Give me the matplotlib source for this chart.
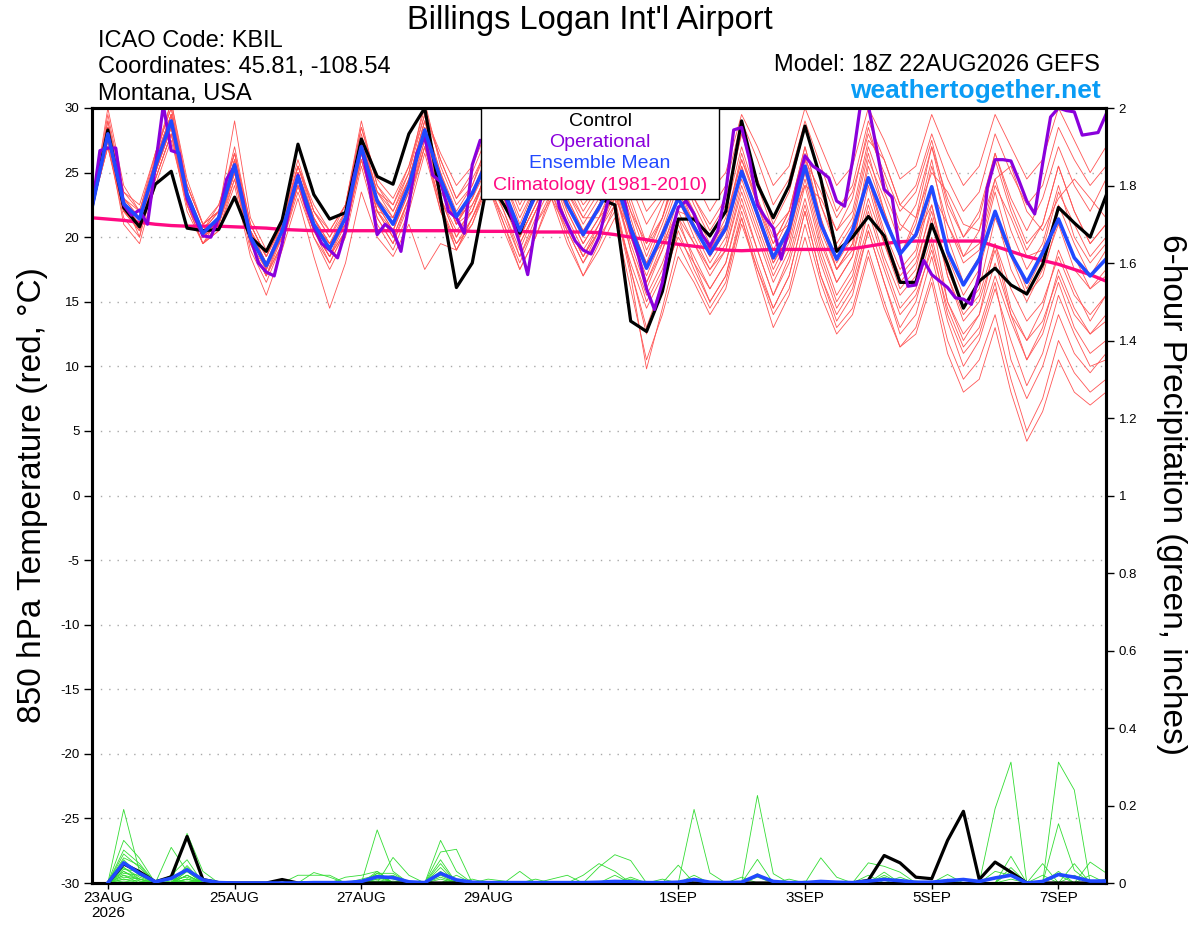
import numpy as np
import pandas as pd
import matplotlib
matplotlib.use('Agg')
import matplotlib.pyplot as plt
from matplotlib.patches import Rectangle

plt.rcParams['font.family'] = ['Liberation Sans', 'DejaVu Sans']
plt.rcParams['axes.unicode_minus'] = False

# ---- data (6-hourly from 18Z 22AUG2026, operational is 3-hourly) ----
times = pd.date_range('2026-08-22 18:00', periods=65, freq='6h')
times_op = pd.date_range('2026-08-22 18:00', periods=129, freq='3h')
times_pr = times[1:]

control = [22.3, 28.3, 22.3, 20.8, 24.1, 25.1, 20.7, 20.5, 20.6, 23.1,
           20.0, 18.9, 21.3, 27.2, 23.3, 21.4, 21.9, 27.6, 24.7, 24.1,
           28.0, 30.0, 23.0, 16.1, 18.0, 24.5, 22.5, 20.3, 23.5, 26.0,
           24.5, 23.8, 23.0, 22.5, 13.5, 12.7, 15.8, 21.4, 21.4, 20.1,
           22.0, 29.0, 24.1, 21.5, 24.0, 28.6, 24.5, 18.9, 20.0, 21.6,
           20.1, 16.5, 16.5, 21.0, 17.9, 14.5, 16.6, 17.6, 16.3, 15.6,
           17.9, 22.3, 21.1, 20.0, 23.2]

ens_mean = [22.3, 28.0, 22.6, 21.4, 25.5, 29.0, 23.3, 20.3, 21.5, 25.6,
            20.0, 17.8, 20.5, 24.7, 21.0, 19.1, 21.5, 27.0, 22.8, 21.0,
            24.0, 28.3, 24.5, 21.6, 23.4, 26.0, 23.6, 20.5, 23.3, 25.5,
            22.5, 20.2, 22.3, 24.5, 20.7, 17.6, 20.2, 23.0, 20.8, 18.7,
            20.7, 25.1, 21.8, 18.4, 20.7, 25.5, 21.0, 18.3, 20.5, 24.6,
            21.5, 18.7, 20.2, 23.9, 18.9, 16.3, 18.3, 22.0, 18.7, 16.5,
            18.8, 21.4, 18.4, 17.0, 18.3]

climatology = [21.5, 21.4, 21.3, 21.15, 21.0, 20.9, 20.85, 20.85, 20.85, 20.8,
               20.75, 20.7, 20.6, 20.55, 20.5, 20.5, 20.5, 20.5, 20.5, 20.5,
               20.5, 20.5, 20.5, 20.5, 20.45, 20.45, 20.45, 20.45, 20.4, 20.4,
               20.4, 20.4, 20.35, 20.2, 20.0, 19.8, 19.6, 19.45, 19.3, 19.15,
               19.0, 18.95, 19.0, 19.05, 19.05, 19.05, 19.05, 19.05, 19.1, 19.3,
               19.5, 19.65, 19.7, 19.7, 19.7, 19.7, 19.7, 19.3, 18.9, 18.5,
               18.2, 17.9, 17.5, 17.1, 16.6]

operational = [22.3, 26.7, 26.9, 26.9, 22.5, 21.7, 22.1, 21.0,
               25.5, 30.2, 26.7, 26.5, 23.0, 21.5, 20.1, 20.0,
               21.5, 24.5, 25.5, 23.0, 20.0, 18.0, 17.3, 17.0,
               19.5, 22.5, 24.8, 22.5, 20.8, 19.5, 19.0, 18.4,
               20.5, 24.5, 27.0, 24.0, 20.2, 21.0, 20.5, 18.9,
               22.5, 26.5, 27.8, 24.8, 24.3, 22.0, 21.5, 20.3,
               25.6, 27.5, 27.0, 25.0, 23.5, 21.5, 19.5, 17.1,
               21.0, 24.0, 25.5, 22.3, 21.0, 19.7, 19.0, 18.7,
               20.0, 22.5, 24.5, 23.5, 20.5, 18.5, 16.0, 14.4,
               16.5, 20.0, 22.3, 22.8, 21.8, 20.2, 19.3, 20.5,
               23.5, 28.3, 28.5, 26.0, 22.5, 21.5, 20.7, 18.3,
               20.7, 24.0, 26.3, 25.5, 25.1, 24.6, 22.8, 22.4,
               25.9, 30.2, 30.2, 27.0, 23.7, 23.1, 18.7, 16.2,
               16.3, 18.2, 17.1, 16.6, 16.1, 15.3, 15.2, 14.8,
               17.1, 23.8, 26.0, 26.0, 25.9, 24.4, 22.8, 21.8,
               25.7, 29.3, 30.0, 29.8, 29.7, 27.9, 28.0, 28.1,
               29.5]

ens_temp = [
    [22.3, 29.5, 23.5, 22.0, 26.5, 30.5, 24.0, 21.0, 22.0, 27.0, 21.0, 18.5, 21.0, 25.5, 22.0, 20.0,
     22.5, 28.5, 24.0, 22.5, 25.5, 30.0, 26.0, 23.0, 25.0, 28.0, 25.5, 22.5, 25.0, 27.5, 24.5, 22.0,
     24.0, 26.5, 23.0, 19.5, 22.5, 25.5, 23.0, 21.0, 23.0, 28.0, 24.5, 21.0, 23.5, 28.5, 24.5, 21.5,
     23.5, 28.0, 25.0, 22.0, 23.5, 27.5, 22.5, 20.0, 22.0, 26.5, 23.0, 20.5, 23.0, 27.0, 24.0, 22.0, 24.5],
    [22.3, 27.0, 21.5, 20.0, 24.5, 28.0, 22.0, 19.5, 20.5, 24.5, 19.0, 16.5, 19.5, 23.5, 20.0, 17.5,
     20.0, 25.5, 21.0, 19.0, 22.0, 26.5, 22.0, 19.5, 21.5, 24.0, 21.5, 18.5, 21.0, 23.0, 20.5, 18.0,
     20.0, 22.0, 18.0, 14.5, 17.0, 20.0, 18.0, 16.0, 18.0, 22.5, 19.0, 15.5, 18.0, 22.5, 18.0, 14.5,
     16.5, 21.0, 17.5, 14.0, 15.5, 19.0, 14.5, 11.5, 13.0, 17.0, 13.5, 10.5, 12.5, 16.5, 13.0, 11.0, 12.0],
    [22.3, 28.5, 22.0, 20.5, 26.0, 29.5, 23.0, 20.5, 22.5, 26.5, 20.5, 18.0, 20.0, 25.0, 21.5, 19.5,
     21.0, 27.5, 23.5, 22.0, 24.5, 29.0, 25.0, 21.5, 22.5, 25.0, 22.5, 20.0, 22.5, 24.5, 23.5, 21.5,
     21.5, 23.0, 20.5, 18.0, 19.5, 22.0, 21.5, 19.0, 21.5, 26.0, 23.0, 20.0, 21.0, 24.0, 23.0, 20.5,
     22.0, 27.5, 26.0, 22.5, 21.5, 25.0, 23.5, 21.0, 20.5, 24.5, 25.5, 22.0, 20.5, 23.0, 24.5, 23.0, 21.5],
    [22.3, 27.5, 23.0, 21.5, 25.0, 28.5, 23.5, 20.0, 21.0, 25.0, 19.5, 17.0, 20.5, 24.0, 20.5, 18.5,
     21.5, 26.5, 22.0, 20.0, 23.0, 27.5, 23.0, 20.5, 22.0, 25.5, 23.0, 19.5, 22.0, 25.0, 21.5, 19.0,
     21.0, 24.0, 19.0, 15.5, 18.0, 21.5, 19.5, 17.5, 19.0, 24.0, 20.5, 17.0, 19.5, 24.5, 19.5, 16.5,
     18.5, 23.0, 19.5, 16.5, 18.0, 22.0, 17.0, 14.0, 15.5, 19.5, 16.0, 13.5, 15.0, 18.5, 15.5, 14.0, 15.5],
    [22.3, 28.0, 22.5, 21.0, 25.5, 29.5, 24.0, 21.0, 22.0, 26.0, 20.5, 18.5, 21.5, 25.5, 22.5, 20.5,
     22.5, 28.5, 24.5, 23.0, 25.5, 29.5, 26.5, 24.0, 25.5, 28.5, 26.0, 23.5, 25.0, 28.0, 25.5, 23.0,
     24.5, 28.0, 25.0, 22.0, 23.5, 27.0, 25.5, 23.5, 25.0, 29.5, 27.0, 24.0, 25.5, 30.0, 27.0, 24.0,
     25.5, 30.0, 27.5, 24.5, 25.5, 29.5, 26.5, 24.0, 25.5, 29.5, 27.0, 24.5, 26.0, 30.0, 27.5, 25.0, 27.0],
    [22.3, 28.5, 22.0, 21.5, 25.0, 28.5, 22.5, 19.5, 21.0, 25.0, 19.5, 17.0, 19.5, 24.0, 20.0, 18.0,
     20.5, 26.0, 21.5, 19.5, 23.0, 27.0, 22.5, 19.5, 21.0, 24.5, 21.0, 17.5, 20.0, 23.5, 20.0, 17.0,
     19.0, 21.5, 16.0, 10.5, 14.0, 18.5, 16.5, 14.0, 16.0, 21.0, 17.5, 14.0, 16.0, 21.0, 16.5, 13.0,
     14.5, 19.0, 15.0, 11.5, 13.0, 17.0, 12.0, 9.0, 10.5, 14.0, 9.0, 5.0, 7.5, 12.0, 9.5, 8.0, 9.0],
    [22.3, 29.0, 23.0, 20.0, 26.5, 30.0, 23.5, 20.5, 21.5, 26.0, 20.0, 18.0, 20.0, 25.0, 21.0, 19.0,
     21.5, 27.0, 22.5, 20.5, 24.0, 28.5, 24.5, 21.0, 23.0, 26.5, 24.0, 20.5, 23.5, 26.0, 22.5, 20.0,
     22.5, 25.5, 21.5, 17.5, 20.5, 24.0, 21.0, 18.5, 20.5, 25.5, 22.0, 18.5, 21.0, 26.5, 21.5, 17.5,
     19.5, 26.0, 23.0, 19.5, 20.0, 25.5, 21.0, 18.0, 19.0, 24.0, 21.5, 18.5, 19.0, 23.5, 21.0, 18.5, 20.0],
    [22.3, 27.0, 22.0, 20.5, 24.5, 28.0, 23.0, 20.0, 21.0, 25.0, 20.0, 17.5, 20.0, 24.5, 20.5, 18.0,
     20.5, 26.5, 22.5, 20.5, 23.5, 28.0, 23.0, 20.0, 22.0, 25.0, 22.0, 19.0, 22.0, 24.5, 21.0, 18.5,
     21.0, 23.5, 19.5, 16.0, 19.0, 22.0, 19.5, 17.0, 19.0, 23.5, 20.0, 16.5, 19.0, 24.0, 19.0, 15.5,
     17.5, 22.5, 18.5, 15.5, 17.0, 21.5, 15.0, 12.0, 14.0, 19.5, 14.5, 12.0, 14.5, 19.0, 16.0, 13.5, 15.5],
    [22.3, 28.5, 23.0, 22.0, 26.0, 29.5, 23.5, 20.5, 22.0, 26.5, 21.0, 18.5, 21.0, 25.5, 21.5, 19.5,
     22.0, 28.0, 23.5, 21.5, 24.5, 29.0, 25.0, 22.0, 24.0, 27.0, 24.5, 21.0, 24.0, 27.0, 24.0, 21.5,
     23.5, 26.0, 22.5, 19.0, 21.5, 25.5, 22.5, 20.0, 22.0, 27.0, 23.0, 19.5, 22.0, 27.0, 22.5, 19.0,
     21.0, 26.5, 22.0, 18.5, 21.0, 26.0, 20.0, 16.5, 18.5, 23.5, 19.0, 16.0, 18.5, 22.5, 19.5, 17.0, 19.0],
    [22.3, 28.0, 22.5, 21.0, 25.5, 29.0, 23.0, 20.0, 21.5, 25.5, 19.5, 17.5, 20.5, 25.0, 21.0, 19.5,
     21.0, 27.0, 22.0, 21.5, 24.5, 28.0, 23.5, 21.5, 23.0, 25.5, 23.0, 20.0, 22.5, 25.5, 22.0, 19.5,
     21.5, 24.5, 20.0, 17.0, 20.0, 23.0, 20.5, 18.0, 20.0, 25.0, 21.5, 18.0, 20.0, 25.5, 20.5, 17.5,
     19.5, 24.5, 20.5, 17.5, 19.0, 24.0, 18.5, 15.5, 17.5, 22.0, 17.5, 15.0, 17.5, 21.0, 17.5, 16.0, 17.5],
    [22.3, 27.5, 21.0, 19.5, 24.0, 27.5, 22.5, 19.5, 20.5, 24.0, 18.5, 15.5, 19.0, 23.0, 18.5, 14.5,
     18.0, 23.5, 20.0, 18.5, 21.0, 17.5, 19.5, 19.0, 21.5, 24.0, 20.5, 17.5, 20.0, 23.0, 19.5, 17.0,
     19.5, 22.5, 17.5, 12.5, 16.0, 20.5, 17.5, 15.0, 17.0, 22.0, 18.0, 14.5, 17.0, 22.0, 17.0, 13.5,
     15.5, 20.5, 16.5, 12.5, 14.0, 18.5, 13.5, 10.0, 12.0, 16.0, 12.0, 8.5, 11.0, 15.5, 12.5, 10.0, 10.5],
    [22.3, 28.5, 22.5, 21.5, 25.0, 29.0, 23.5, 20.5, 21.5, 25.5, 20.5, 18.0, 21.0, 24.5, 21.5, 19.0,
     22.0, 27.5, 23.0, 21.0, 24.0, 28.5, 24.0, 21.0, 23.5, 26.0, 23.5, 20.5, 23.0, 26.0, 23.0, 20.5,
     22.0, 25.0, 21.0, 18.0, 21.0, 24.5, 22.0, 19.5, 21.0, 26.5, 22.5, 19.0, 21.5, 26.0, 23.5, 20.5,
     23.0, 28.5, 24.5, 21.0, 20.0, 22.5, 17.0, 13.5, 15.0, 19.0, 14.0, 10.5, 13.0, 17.5, 14.5, 12.5, 13.5],
    [22.3, 30.0, 24.0, 22.0, 26.0, 30.5, 24.5, 21.0, 22.0, 29.0, 21.5, 19.0, 21.5, 26.0, 22.0, 20.5,
     22.5, 29.0, 24.0, 22.0, 25.0, 30.5, 25.5, 22.5, 24.0, 27.5, 24.5, 21.5, 24.0, 26.5, 23.5, 21.0,
     23.0, 26.0, 22.0, 18.5, 21.5, 26.0, 23.0, 20.5, 22.5, 28.0, 24.0, 20.5, 22.0, 26.0, 21.5, 18.0,
     20.0, 24.5, 20.0, 17.0, 18.5, 23.5, 21.0, 18.5, 20.5, 26.0, 22.0, 19.0, 21.0, 25.5, 22.0, 19.5, 21.0],
    [22.3, 27.5, 22.0, 20.5, 25.0, 28.5, 22.5, 19.5, 21.5, 25.0, 19.5, 17.0, 20.0, 24.0, 20.5, 18.5,
     20.5, 26.0, 22.0, 20.0, 23.0, 27.0, 22.5, 19.0, 21.5, 24.5, 22.0, 18.5, 21.5, 24.0, 21.0, 18.5,
     20.5, 23.0, 17.5, 13.0, 16.5, 21.0, 18.5, 16.0, 18.0, 23.0, 19.0, 15.5, 18.5, 23.0, 18.5, 15.0,
     17.0, 22.0, 18.0, 14.5, 16.0, 20.0, 15.0, 12.5, 14.0, 18.0, 14.0, 12.0, 13.5, 17.0, 14.0, 12.5, 14.0],
    [22.3, 28.0, 23.0, 21.5, 25.5, 29.5, 23.0, 20.0, 21.0, 26.0, 20.5, 18.0, 20.0, 24.5, 21.0, 19.5,
     21.5, 27.5, 23.5, 22.5, 25.0, 29.5, 26.0, 23.0, 24.5, 27.0, 25.0, 22.0, 24.5, 27.5, 25.0, 22.5,
     24.0, 27.0, 24.0, 21.0, 23.0, 27.5, 24.5, 22.0, 24.0, 29.0, 26.0, 22.5, 24.5, 29.0, 25.5, 22.0,
     24.0, 29.0, 26.0, 22.5, 24.0, 28.0, 24.5, 22.0, 23.5, 28.0, 25.0, 22.5, 24.0, 28.5, 26.0, 24.0, 25.5],
    [22.3, 28.5, 22.5, 21.0, 26.0, 29.5, 23.5, 20.5, 21.0, 25.5, 20.5, 17.5, 20.5, 25.0, 21.5, 19.0,
     21.5, 27.0, 23.0, 21.0, 24.0, 28.5, 24.0, 21.0, 23.0, 26.0, 23.5, 20.5, 23.0, 25.5, 22.5, 20.0,
     22.5, 24.5, 20.5, 16.5, 19.5, 23.5, 21.0, 18.5, 20.5, 25.5, 21.5, 18.0, 20.5, 25.5, 21.0, 17.5,
     19.0, 25.5, 22.0, 18.5, 21.5, 27.0, 22.0, 18.5, 19.5, 24.5, 20.5, 17.5, 19.5, 24.0, 20.0, 18.0, 19.5],
    [22.3, 28.0, 22.5, 21.5, 25.5, 28.5, 23.0, 20.0, 21.5, 25.5, 20.0, 17.5, 20.5, 24.5, 20.5, 18.5,
     21.0, 26.5, 22.0, 20.5, 23.5, 27.5, 23.0, 20.0, 22.5, 25.0, 22.5, 19.5, 22.0, 24.5, 21.0, 18.5,
     20.5, 23.5, 19.0, 15.0, 17.5, 21.5, 18.0, 15.0, 17.0, 21.5, 17.0, 13.0, 15.5, 20.0, 15.5, 12.5,
     14.0, 18.5, 14.5, 11.5, 12.5, 16.5, 11.0, 8.0, 9.0, 13.0, 8.0, 4.2, 6.5, 10.5, 8.0, 7.0, 8.0],
    [22.3, 29.0, 23.5, 22.5, 26.5, 30.0, 24.0, 21.0, 22.5, 26.5, 21.0, 18.5, 21.0, 25.5, 22.0, 20.0,
     22.0, 27.5, 23.0, 21.5, 24.5, 29.0, 24.5, 21.5, 23.5, 26.5, 23.5, 20.5, 23.5, 26.5, 23.0, 20.5,
     22.5, 25.5, 22.0, 19.5, 21.5, 25.0, 21.5, 19.0, 21.0, 26.0, 22.5, 19.5, 22.0, 27.0, 22.5, 19.5,
     21.5, 27.0, 23.5, 20.5, 22.5, 27.0, 23.0, 20.0, 21.5, 26.5, 22.5, 19.5, 21.0, 25.5, 22.0, 19.5, 21.0],
    [22.3, 27.0, 22.0, 21.0, 24.5, 28.0, 22.5, 20.0, 21.0, 24.5, 19.5, 17.0, 19.5, 24.0, 20.5, 18.5,
     20.5, 26.0, 21.5, 19.5, 22.5, 27.0, 22.0, 19.0, 21.0, 24.0, 21.0, 18.0, 21.0, 23.5, 20.5, 18.0,
     20.5, 22.5, 17.0, 9.8, 14.5, 19.5, 17.0, 14.5, 16.5, 21.5, 17.5, 14.5, 17.0, 22.0, 17.0, 14.0,
     16.0, 20.5, 16.5, 13.0, 15.0, 19.5, 14.0, 11.0, 12.5, 16.5, 10.5, 7.5, 10.0, 14.0, 11.0, 9.5, 11.0],
    [22.3, 28.5, 22.0, 21.0, 25.0, 29.0, 23.0, 20.5, 22.0, 25.5, 20.0, 17.5, 20.5, 24.5, 21.0, 19.0,
     21.0, 26.5, 22.5, 21.0, 24.0, 28.0, 24.0, 21.0, 22.0, 25.5, 23.0, 20.0, 22.5, 25.0, 22.0, 19.5,
     21.5, 24.0, 20.0, 16.5, 19.0, 23.0, 20.0, 17.5, 19.5, 24.5, 21.0, 17.5, 20.0, 25.0, 20.0, 16.5,
     18.5, 24.0, 19.5, 16.0, 17.5, 22.5, 17.5, 14.5, 16.0, 21.5, 18.5, 15.5, 17.0, 21.5, 18.5, 16.0, 17.0],
]

# 6-hour precipitation (inches), valid t=1..64 (00Z 23AUG onward)
precip_ctrl = [0, .049, .029, .003, .016, .12, .009, .001,
               0, 0, 0, .009, 0, 0, 0, 0,
               0, 0, 0, 0, 0, 0, 0, 0,
               0, 0, 0, 0, 0, 0, 0, 0,
               0, 0, 0, 0, 0, 0, 0, 0,
               0, 0, 0, 0, 0, 0, 0, 0,
               .007, .071, .052, .015, .011, .11, .185, .009,
               .054, .028, 0, 0, 0, 0, 0, 0]

precip_mean = [0, .052, .025, .003, .012, .034, .008, .001,
               0, 0, 0, 0, 0, .001, .001, .001,
               .004, .016, .014, .003, .001, .025, .008, .002,
               .001, .001, .001, .001, .001, .001, .001, .002,
               .004, .003, .001, .001, .002, .009, .002, .001,
               .002, .02, .004, .001, .001, .004, .002, .001,
               .005, .009, .006, .002, .002, .006, .009, .004,
               .013, .02, 0, .004, .022, .015, .005, .005]

# members: {step: inches}, all other steps are zero
ens_precip = [
    {2: .19, 3: .03, 6: .02, 22: .11, 23: .03, 38: .19, 39: .026, 58: .069},
    {2: .11, 3: .064, 6: .128, 7: .03, 18: .03, 42: .226, 43: .024, 61: .153, 62: .033},
    {2: .085, 3: .05, 5: .02, 6: .06, 18: .137, 19: .03, 57: .192, 58: .312},
    {2: .075, 3: .04, 5: .092, 6: .03, 19: .066, 20: .02, 61: .312, 62: .24},
    {2: .065, 3: .045, 6: .045, 14: .027, 15: .015, 22: .08, 23: .087, 46: .065, 47: .015, 63: .054, 64: .026},
    {2: .06, 3: .02, 6: .04, 18: .025, 19: .025, 32: .041, 33: .073, 34: .058},
    {2: .05, 3: .03, 6: .03, 22: .06, 27: .03, 49: .052, 50: .043, 51: .028},
    {2: .05, 3: .02, 6: .03, 18: .02, 22: .05, 37: .046, 42: .061, 60: .05},
    {2: .04, 3: .01, 6: .02, 16: .015, 17: .02, 18: .03, 22: .04, 31: .02, 32: .05, 33: .03, 50: .028},
    {2: .04, 3: .015, 6: .02, 18: .025, 22: .03, 34: .015, 42: .024, 54: .022, 58: .03},
    {2: .035, 3: .03, 5: .01, 6: .015, 13: .02, 14: .02, 15: .02, 18: .02, 19: .01, 41: .015, 62: .02},
    {2: .03, 3: .01, 6: .01, 18: .015, 23: .02, 36: .01, 50: .02, 55: .01},
    {2: .03, 3: .005, 7: .01, 17: .01, 18: .02, 22: .02, 29: .01, 30: .02, 57: .03, 58: .02},
    {2: .025, 3: .02, 6: .01, 18: .01, 19: .02, 25: .01, 26: .005, 51: .015, 61: .03},
    {2: .02, 3: .01, 7: .01, 22: .015, 24: .01, 44: .01, 49: .02, 63: .02},
    {2: .02, 6: .005, 18: .01, 22: .01, 28: .01, 58: .04, 62: .05},
    {2: .015, 3: .01, 18: .005, 33: .02, 50: .015, 54: .01},
    {2: .01, 3: .005, 5: .01, 19: .005, 38: .02, 42: .015, 60: .02},
    {2: .01, 6: .01, 23: .01, 45: .005, 61: .02, 64: .01},
    {2: .005, 5: .005, 18: .005, 34: .01, 52: .005, 58: .01},
]

tick_dates = ['2026-08-23', '2026-08-25', '2026-08-27', '2026-08-29',
              '2026-09-01', '2026-09-03', '2026-09-05', '2026-09-07']
tick_labels = ['23AUG\n2026', '25AUG', '27AUG', '29AUG', '1SEP', '3SEP', '5SEP', '7SEP']

RED = '#ff5555'
GREEN = '#33dd33'
PURPLE = '#8a00dc'
BLUE = '#2149ff'
PINK = '#ff0a82'

fig = plt.figure(figsize=(12, 9.27), dpi=100)
ax = fig.add_axes([92/1200, 1-883/927, (1106-92)/1200, (883-108)/927])

for v in range(-25, 30, 5):
    ax.axhline(v, color='#a8a8a8', lw=1.0, ls=(0, (1, 5)), zorder=1)

for m in ens_temp:
    ax.plot(times, m, color=RED, lw=0.6, zorder=2)
ax.plot(times, climatology, color=PINK, lw=2.4, zorder=3)
ax.plot(times, control, color='black', lw=2.3, zorder=4)
ax.plot(times_op, operational, color=PURPLE, lw=2.3, zorder=5)
ax.plot(times, ens_mean, color=BLUE, lw=2.6, zorder=6)

ax.set_xlim(times[0], times[-1])
ax.set_ylim(-30, 30)
ax.set_yticks(range(-30, 31, 5))
ax.set_xticks(pd.to_datetime(tick_dates))
ax.set_xticklabels(tick_labels, fontsize=11, linespacing=1.05)
ax.tick_params(axis='y', labelsize=9.5, length=6, width=1, pad=3)
ax.tick_params(axis='x', length=4, width=1, pad=2)

ax2 = ax.twinx()
for d in ens_precip:
    arr = np.zeros(len(times_pr))
    for step, val in d.items():
        arr[step - 1] = val
    ax2.plot(times_pr, arr, color=GREEN, lw=0.6, zorder=2)
ax2.plot(times_pr, precip_ctrl, color='black', lw=2.3, zorder=4)
ax2.plot(times_pr, precip_mean, color=BLUE, lw=2.6, zorder=5)
ax2.set_ylim(0, 2)
ax2.set_yticks(np.arange(0, 2.01, 0.2))
ax2.set_yticklabels(['%g' % round(v, 1) for v in np.arange(0, 2.01, 0.2)])
ax2.tick_params(axis='y', labelsize=9.5, length=6, width=1, pad=3)

for a in (ax, ax2):
    for s in a.spines.values():
        s.set_linewidth(2.2)

# legend box
box = Rectangle((0.3836, 0.8826), 0.2347, 0.1174, transform=ax2.transAxes,
                facecolor='white', edgecolor='black', lw=1.0, zorder=10, clip_on=False)
ax2.add_patch(box)
leg_items = [('Control', 'black', 0.9832), ('Operational', PURPLE, 0.9561),
             ('Ensemble Mean', BLUE, 0.9290), ('Climatology (1981-2010)', PINK, 0.9006)]
for txt, col, yy in leg_items:
    ax2.text(0.501, yy, txt, color=col, fontsize=14, ha='center', va='center',
             transform=ax2.transAxes, zorder=11)

# titles and labels
fig.text(590/1200, 1-28.5/927, "Billings Logan Int'l Airport", ha='center', va='baseline', fontsize=23.5)
fig.text(98/1200, 1-46.7/927, 'ICAO Code: KBIL', ha='left', va='baseline', fontsize=17)
fig.text(98/1200, 1-73.3/927, 'Coordinates: 45.81, -108.54', ha='left', va='baseline', fontsize=17)
fig.text(98/1200, 1-100/927, 'Montana, USA', ha='left', va='baseline', fontsize=17)
fig.text(1100/1200, 1-70.7/927, 'Model: 18Z 22AUG2026 GEFS', ha='right', va='baseline', fontsize=17)
fig.text(1101/1200, 1-97.7/927, 'weathertogether.net', ha='right', va='baseline',
         fontsize=19, fontweight='bold', color='#0a9cf5')
fig.text(33/1200, 1-495/927, '850 hPa Temperature (red, °C)', rotation=90,
         ha='center', va='center', fontsize=24)
fig.text(1172/1200, 1-495/927, '6-hour Precipitation (green, inches)', rotation=-90,
         ha='center', va='center', fontsize=24)

fig.savefig('out.png', dpi=100)
